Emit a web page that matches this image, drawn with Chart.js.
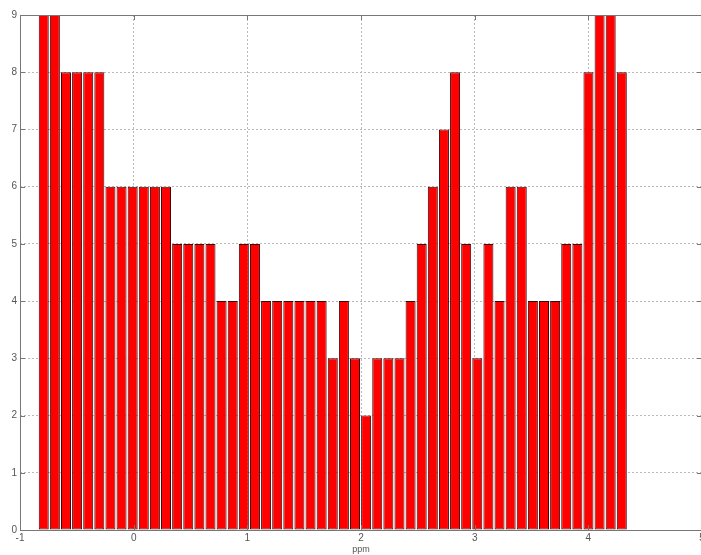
<!DOCTYPE html>
<html>
<head>
<meta charset="utf-8">
<style>
  html, body { margin: 0; padding: 0; background: #fff; overflow: hidden; }
  #wrap { width: 704px; height: 555px; }
</style>
<script src="https://cdn.jsdelivr.net/npm/chart.js@4/dist/chart.umd.min.js"></script>
</head>
<body>
<div id="wrap"><canvas id="hist" width="704" height="555"></canvas></div>
<script>
// histogram of chemical shifts (ppm), one bin per 0.0978 ppm
const binStart = -0.84;
const binWidth = 0.0978;
const counts = [
  9, 9, 8, 8, 8, 8, 6, 6, 6, 6, 6, 6, 5, 5, 5, 5, 4, 4,
  5, 5, 4, 4, 4, 4, 4, 4, 3, 4, 3, 2, 3, 3, 3, 4, 5, 6,
  7, 8, 5, 3, 5, 4, 6, 6, 4, 4, 4, 5, 5, 8, 9, 9, 8
];
const xTicks = [-1, 0, 1, 2, 3, 4, 5];
const yTicks = [0, 1, 2, 3, 4, 5, 6, 7, 8, 9];

const points = counts.map((c, i) => ({ x: binStart + binWidth * (i + 0.5), y: c }));

const labelFont = { family: "'Liberation Sans', Arial, sans-serif", size: 10 };

// axis box with inward tick marks on all four sides
const frame = {
  id: 'frame',
  afterDatasetsDraw(chart) {
    const { ctx, chartArea: a, scales: { x, y } } = chart;
    ctx.save();
    ctx.strokeStyle = '#777';
    ctx.lineWidth = 1;
    ctx.strokeRect(a.left + 0.5, a.top + 0.5, a.right - a.left, a.bottom - a.top);
    ctx.beginPath();
    yTicks.forEach(v => {
      const py = Math.round(y.getPixelForValue(v)) + 0.5;
      ctx.moveTo(a.left, py); ctx.lineTo(a.left + 5, py);
      ctx.moveTo(a.right, py); ctx.lineTo(a.right - 5, py);
    });
    xTicks.forEach(v => {
      const px = Math.round(x.getPixelForValue(v)) + 0.5;
      ctx.moveTo(px, a.bottom); ctx.lineTo(px, a.bottom - 5);
      ctx.moveTo(px, a.top); ctx.lineTo(px, a.top + 5);
    });
    ctx.stroke();
    ctx.restore();
  }
};

new Chart(document.getElementById('hist').getContext('2d'), {
  type: 'bar',
  data: {
    datasets: [{
      data: points,
      backgroundColor: '#ff0000',
      borderColor: '#3a0808',
      borderWidth: 1,
      borderSkipped: false,
      barPercentage: 0.9,
      categoryPercentage: 1
    }]
  },
  options: {
    responsive: false,
    animation: false,
    layout: { padding: { top: 15, left: 0, right: 2, bottom: 0 } },
    plugins: { legend: { display: false }, tooltip: { enabled: false } },
    scales: {
      x: {
        type: 'linear',
        min: -1,
        max: 5,
        offset: false,
        afterBuildTicks: s => { s.ticks = xTicks.map(v => ({ value: v })); },
        afterFit: s => { s.height = 25; s.paddingLeft = 0; s.paddingRight = 0; },
        ticks: { color: '#555', font: labelFont, padding: 2, maxRotation: 0, autoSkip: false },
        grid: { color: '#b8b8b8', drawTicks: false, offset: false },
        border: { display: false, dash: [2, 2] },
        title: {
          display: true, text: 'ppm', color: '#555',
          font: { family: labelFont.family, size: 9 }, padding: 0
        }
      },
      y: {
        min: 0,
        max: 9,
        afterBuildTicks: s => { s.ticks = yTicks.map(v => ({ value: v })); },
        afterFit: s => { s.width = 20; s.paddingTop = 0; s.paddingBottom = 0; },
        ticks: { color: '#555', font: labelFont, padding: 3 },
        grid: { color: '#b8b8b8', drawTicks: false },
        border: { display: false, dash: [2, 2] }
      }
    }
  },
  plugins: [frame]
});
</script>
</body>
</html>
